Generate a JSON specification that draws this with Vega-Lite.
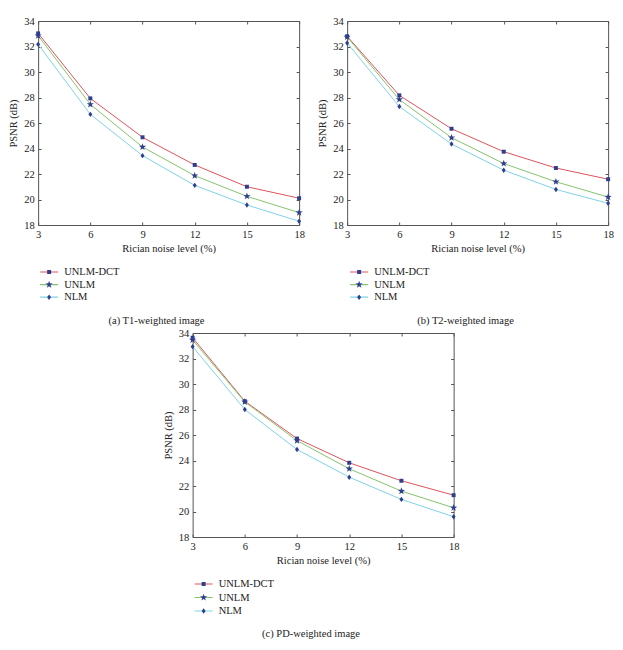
{
  "$schema": "https://vega.github.io/schema/vega-lite/v6.json",
  "padding": {"left": 8, "top": 15, "right": 5, "bottom": 5},
  "background": "white",
  "data": {
    "values": [
      {"panel": "a", "method": "UNLM-DCT", "noise": 3, "psnr": 33.03},
      {"panel": "a", "method": "UNLM-DCT", "noise": 6, "psnr": 27.93},
      {"panel": "a", "method": "UNLM-DCT", "noise": 9, "psnr": 24.88},
      {"panel": "a", "method": "UNLM-DCT", "noise": 12, "psnr": 22.71},
      {"panel": "a", "method": "UNLM-DCT", "noise": 15, "psnr": 21.0},
      {"panel": "a", "method": "UNLM-DCT", "noise": 18, "psnr": 20.1},
      {"panel": "a", "method": "UNLM", "noise": 3, "psnr": 32.85},
      {"panel": "a", "method": "UNLM", "noise": 6, "psnr": 27.46},
      {"panel": "a", "method": "UNLM", "noise": 9, "psnr": 24.12},
      {"panel": "a", "method": "UNLM", "noise": 12, "psnr": 21.87},
      {"panel": "a", "method": "UNLM", "noise": 15, "psnr": 20.25},
      {"panel": "a", "method": "UNLM", "noise": 18, "psnr": 18.97},
      {"panel": "a", "method": "NLM", "noise": 3, "psnr": 32.17},
      {"panel": "a", "method": "NLM", "noise": 6, "psnr": 26.68},
      {"panel": "a", "method": "NLM", "noise": 9, "psnr": 23.44},
      {"panel": "a", "method": "NLM", "noise": 12, "psnr": 21.11},
      {"panel": "a", "method": "NLM", "noise": 15, "psnr": 19.57},
      {"panel": "a", "method": "NLM", "noise": 18, "psnr": 18.29},
      {"panel": "b", "method": "UNLM-DCT", "noise": 3, "psnr": 32.8},
      {"panel": "b", "method": "UNLM-DCT", "noise": 6, "psnr": 28.17},
      {"panel": "b", "method": "UNLM-DCT", "noise": 9, "psnr": 25.55},
      {"panel": "b", "method": "UNLM-DCT", "noise": 12, "psnr": 23.75},
      {"panel": "b", "method": "UNLM-DCT", "noise": 15, "psnr": 22.47},
      {"panel": "b", "method": "UNLM-DCT", "noise": 18, "psnr": 21.59},
      {"panel": "b", "method": "UNLM", "noise": 3, "psnr": 32.75},
      {"panel": "b", "method": "UNLM", "noise": 6, "psnr": 27.84},
      {"panel": "b", "method": "UNLM", "noise": 9, "psnr": 24.85},
      {"panel": "b", "method": "UNLM", "noise": 12, "psnr": 22.82},
      {"panel": "b", "method": "UNLM", "noise": 15, "psnr": 21.39},
      {"panel": "b", "method": "UNLM", "noise": 18, "psnr": 20.19},
      {"panel": "b", "method": "NLM", "noise": 3, "psnr": 32.28},
      {"panel": "b", "method": "NLM", "noise": 6, "psnr": 27.29},
      {"panel": "b", "method": "NLM", "noise": 9, "psnr": 24.35},
      {"panel": "b", "method": "NLM", "noise": 12, "psnr": 22.3},
      {"panel": "b", "method": "NLM", "noise": 15, "psnr": 20.79},
      {"panel": "b", "method": "NLM", "noise": 18, "psnr": 19.7},
      {"panel": "c", "method": "UNLM-DCT", "noise": 3, "psnr": 33.63},
      {"panel": "c", "method": "UNLM-DCT", "noise": 6, "psnr": 28.65},
      {"panel": "c", "method": "UNLM-DCT", "noise": 9, "psnr": 25.72},
      {"panel": "c", "method": "UNLM-DCT", "noise": 12, "psnr": 23.82},
      {"panel": "c", "method": "UNLM-DCT", "noise": 15, "psnr": 22.41},
      {"panel": "c", "method": "UNLM-DCT", "noise": 18, "psnr": 21.28},
      {"panel": "c", "method": "UNLM", "noise": 3, "psnr": 33.45},
      {"panel": "c", "method": "UNLM", "noise": 6, "psnr": 28.6},
      {"panel": "c", "method": "UNLM", "noise": 9, "psnr": 25.56},
      {"panel": "c", "method": "UNLM", "noise": 12, "psnr": 23.35},
      {"panel": "c", "method": "UNLM", "noise": 15, "psnr": 21.6},
      {"panel": "c", "method": "UNLM", "noise": 18, "psnr": 20.29},
      {"panel": "c", "method": "NLM", "noise": 3, "psnr": 32.93},
      {"panel": "c", "method": "NLM", "noise": 6, "psnr": 28.0},
      {"panel": "c", "method": "NLM", "noise": 9, "psnr": 24.86},
      {"panel": "c", "method": "NLM", "noise": 12, "psnr": 22.69},
      {"panel": "c", "method": "NLM", "noise": 15, "psnr": 20.95},
      {"panel": "c", "method": "NLM", "noise": 18, "psnr": 19.59}
    ]
  },
  "vconcat": [
    {
      "hconcat": [
        {
          "transform": [{"filter": "datum.panel == 'a'"}],
          "width": 261,
          "height": 204,
          "title": {"text": "(a)  T1-weighted image", "orient": "bottom", "anchor": "middle", "frame": "bounds", "offset": 12},
          "layer": [
            {
              "mark": {"type": "line", "strokeWidth": 1},
              "encoding": {
                "x": {"field": "noise", "type": "quantitative", "scale": {"domain": [3, 18], "nice": false, "zero": false}, "axis": {"orient": "bottom", "values": [3, 6, 9, 12, 15, 18], "title": "Rician noise level (%)"}},
                "y": {"field": "psnr", "type": "quantitative", "scale": {"domain": [18, 34], "nice": false, "zero": false}, "axis": {"orient": "left", "values": [18, 20, 22, 24, 26, 28, 30, 32, 34], "title": "PSNR (dB)"}},
                "color": {"field": "method", "type": "nominal", "scale": {"domain": ["UNLM-DCT", "UNLM", "NLM"], "range": ["#e0545c", "#86c46e", "#7fd3e6"]}, "legend": {"orient": "none", "legendX": 1, "legendY": 245.5, "rowPadding": 1.6}}
              }
            },
            {
              "mark": {"type": "point", "filled": true, "size": 324, "color": "#2e3f8f", "opacity": 1},
              "encoding": {
                "x": {"field": "noise", "type": "quantitative", "axis": {"orient": "top", "labels": false, "title": null, "values": [3, 6, 9, 12, 15, 18]}},
                "y": {"field": "psnr", "type": "quantitative", "axis": {"orient": "right", "labels": false, "title": null, "values": [18, 20, 22, 24, 26, 28, 30, 32, 34]}},
                "shape": {"field": "method", "type": "nominal", "sort": ["UNLM-DCT", "UNLM", "NLM"], "scale": {"range": ["M-0.22,-0.22L0.22,-0.22L0.22,0.22L-0.22,0.22Z", "M0,-0.42L0.1,-0.14L0.4,-0.13L0.16,0.05L0.25,0.34L0,0.17L-0.25,0.34L-0.16,0.05L-0.4,-0.13L-0.1,-0.14Z", "M0,-0.3L0.22,0L0,0.3L-0.22,0Z"]}, "legend": {"orient": "none", "legendX": 1, "legendY": 245.5, "rowPadding": 1.6, "labelOpacity": 0}}
              }
            }
          ],
          "resolve": {"axis": {"x": "independent", "y": "independent"}}
        },
        {
          "transform": [{"filter": "datum.panel == 'b'"}],
          "width": 261,
          "height": 204,
          "title": {"text": "(b)  T2-weighted image", "orient": "bottom", "anchor": "middle", "frame": "bounds", "offset": 12},
          "layer": [
            {
              "mark": {"type": "line", "strokeWidth": 1},
              "encoding": {
                "x": {"field": "noise", "type": "quantitative", "scale": {"domain": [3, 18], "nice": false, "zero": false}, "axis": {"orient": "bottom", "values": [3, 6, 9, 12, 15, 18], "title": "Rician noise level (%)"}},
                "y": {"field": "psnr", "type": "quantitative", "scale": {"domain": [18, 34], "nice": false, "zero": false}, "axis": {"orient": "left", "values": [18, 20, 22, 24, 26, 28, 30, 32, 34], "title": "PSNR (dB)"}},
                "color": {"field": "method", "type": "nominal", "scale": {"domain": ["UNLM-DCT", "UNLM", "NLM"], "range": ["#e0545c", "#86c46e", "#7fd3e6"]}, "legend": {"orient": "none", "legendX": 2, "legendY": 245.5, "rowPadding": 1.6}}
              }
            },
            {
              "mark": {"type": "point", "filled": true, "size": 324, "color": "#2e3f8f", "opacity": 1},
              "encoding": {
                "x": {"field": "noise", "type": "quantitative", "axis": {"orient": "top", "labels": false, "title": null, "values": [3, 6, 9, 12, 15, 18]}},
                "y": {"field": "psnr", "type": "quantitative", "axis": {"orient": "right", "labels": false, "title": null, "values": [18, 20, 22, 24, 26, 28, 30, 32, 34]}},
                "shape": {"field": "method", "type": "nominal", "sort": ["UNLM-DCT", "UNLM", "NLM"], "scale": {"range": ["M-0.22,-0.22L0.22,-0.22L0.22,0.22L-0.22,0.22Z", "M0,-0.42L0.1,-0.14L0.4,-0.13L0.16,0.05L0.25,0.34L0,0.17L-0.25,0.34L-0.16,0.05L-0.4,-0.13L-0.1,-0.14Z", "M0,-0.3L0.22,0L0,0.3L-0.22,0Z"]}, "legend": {"orient": "none", "legendX": 2, "legendY": 245.5, "rowPadding": 1.6, "labelOpacity": 0}}
              }
            }
          ],
          "resolve": {"axis": {"x": "independent", "y": "independent"}}
        }
      ],
      "spacing": 12,
      "resolve": {"scale": {"color": "independent", "shape": "independent"}, "legend": {"color": "independent", "shape": "independent"}}
    },
    {
      "transform": [{"filter": "datum.panel == 'c'"}],
      "width": 261,
      "height": 204,
      "title": {"text": "(c)  PD-weighted image", "orient": "bottom", "anchor": "middle", "frame": "bounds", "offset": 12},
      "layer": [
        {
          "mark": {"type": "line", "strokeWidth": 1},
          "encoding": {
            "x": {"field": "noise", "type": "quantitative", "scale": {"domain": [3, 18], "nice": false, "zero": false}, "axis": {"orient": "bottom", "values": [3, 6, 9, 12, 15, 18], "title": "Rician noise level (%)"}},
            "y": {"field": "psnr", "type": "quantitative", "scale": {"domain": [18, 34], "nice": false, "zero": false}, "axis": {"orient": "left", "values": [18, 20, 22, 24, 26, 28, 30, 32, 34], "title": "PSNR (dB)"}},
            "color": {"field": "method", "type": "nominal", "scale": {"domain": ["UNLM-DCT", "UNLM", "NLM"], "range": ["#e0545c", "#86c46e", "#7fd3e6"]}, "legend": {"orient": "none", "legendX": 1, "legendY": 245.5, "rowPadding": 2.5}}
          }
        },
        {
          "mark": {"type": "point", "filled": true, "size": 324, "color": "#2e3f8f", "opacity": 1},
          "encoding": {
            "x": {"field": "noise", "type": "quantitative", "axis": {"orient": "top", "labels": false, "title": null, "values": [3, 6, 9, 12, 15, 18]}},
            "y": {"field": "psnr", "type": "quantitative", "axis": {"orient": "right", "labels": false, "title": null, "values": [18, 20, 22, 24, 26, 28, 30, 32, 34]}},
            "shape": {"field": "method", "type": "nominal", "sort": ["UNLM-DCT", "UNLM", "NLM"], "scale": {"range": ["M-0.22,-0.22L0.22,-0.22L0.22,0.22L-0.22,0.22Z", "M0,-0.42L0.1,-0.14L0.4,-0.13L0.16,0.05L0.25,0.34L0,0.17L-0.25,0.34L-0.16,0.05L-0.4,-0.13L-0.1,-0.14Z", "M0,-0.3L0.22,0L0,0.3L-0.22,0Z"]}, "legend": {"orient": "none", "legendX": 1, "legendY": 245.5, "rowPadding": 2.5, "labelOpacity": 0}}
          }
        }
      ],
      "resolve": {"axis": {"x": "independent", "y": "independent"}}
    }
  ],
  "spacing": 0,
  "center": true,
  "resolve": {"scale": {"color": "independent", "shape": "independent"}, "legend": {"color": "independent", "shape": "independent"}},
  "config": {
    "font": "Liberation Serif",
    "view": {"stroke": "#555555", "strokeWidth": 1},
    "axis": {
      "domain": false,
      "grid": false,
      "labelFont": "Liberation Serif",
      "titleFont": "Liberation Serif",
      "labelFontSize": 10.5,
      "titleFontSize": 10.5,
      "titleFontWeight": "normal",
      "labelColor": "#222222",
      "titleColor": "#222222",
      "tickColor": "#555555",
      "tickSize": -3,
      "labelPadding": 7,
      "labelFlush": false,
      "labelOverlap": false
    },
    "axisX": {"titlePadding": 4},
    "axisY": {"titlePadding": 5},
    "legend": {
      "title": null,
      "padding": 0,
      "symbolSize": 324,
      "symbolStrokeWidth": 1.2,
      "clipHeight": 11,
      "labelOffset": 5,
      "labelFont": "Liberation Serif",
      "labelFontSize": 10.5,
      "labelColor": "#222222"
    },
    "title": {"font": "Liberation Serif", "fontSize": 10.5, "fontWeight": "normal", "color": "#222222"}
  }
}
